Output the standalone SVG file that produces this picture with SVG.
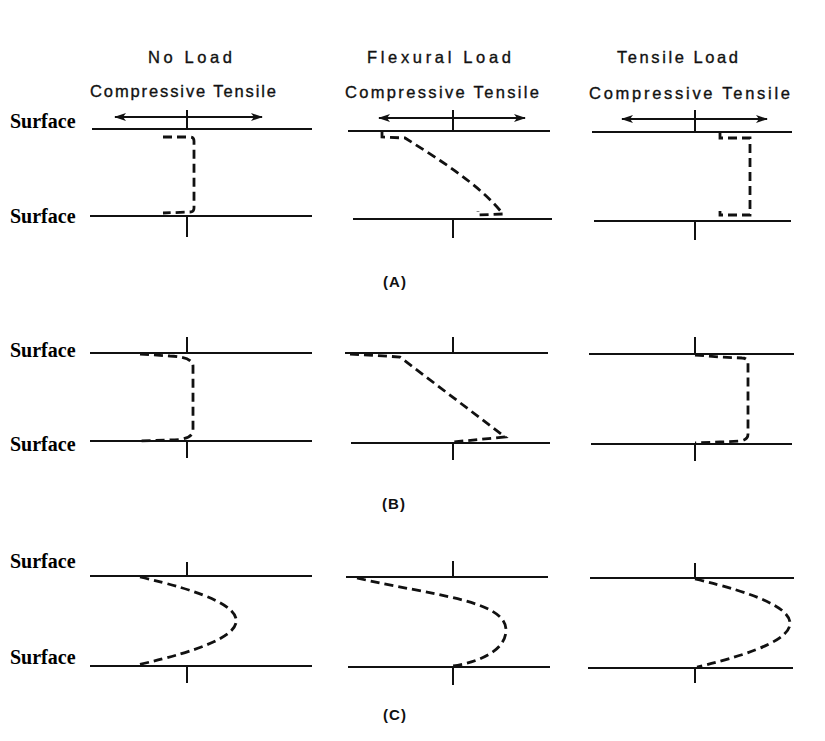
<svg xmlns="http://www.w3.org/2000/svg" width="825" height="741" viewBox="0 0 825 741">
<defs>
<marker id="ah" markerWidth="12" markerHeight="8" refX="11" refY="4" orient="auto-start-reverse" markerUnits="userSpaceOnUse">
<path d="M0,0 L12,4 L0,8 L3,4 Z" fill="#111"/>
</marker>
</defs>
<style>
.ln{stroke:#111;stroke-width:2;fill:none}
.ar{stroke:#111;stroke-width:2;fill:none;marker-start:url(#ah);marker-end:url(#ah)}
.ds{stroke:#111;stroke-width:2.8;fill:none;stroke-dasharray:9 5}
.hd{font-family:"Liberation Sans",Arial,sans-serif;font-size:16.5px;fill:#111;stroke:#111;stroke-width:0.35}
.sf{font-family:"Liberation Serif","Times New Roman",serif;font-size:20px;font-weight:bold;fill:#000}
.lb{font-family:"Liberation Sans",Arial,sans-serif;font-size:15px;font-weight:bold;fill:#111}
</style>
<rect width="825" height="741" fill="#fff"/>
<g id="headers">
<text class="hd" x="148" y="63" textLength="84" lengthAdjust="spacing">No Load</text>
<text class="hd" x="367" y="63" textLength="144" lengthAdjust="spacing">Flexural Load</text>
<text class="hd" x="617" y="63" textLength="121" lengthAdjust="spacing">Tensile Load</text>
<text class="hd" x="90" y="97" textLength="186" lengthAdjust="spacing">Compressive Tensile</text>
<text class="hd" x="345" y="98" textLength="194" lengthAdjust="spacing">Compressive Tensile</text>
<text class="hd" x="589" y="99" textLength="201" lengthAdjust="spacing">Compressive Tensile</text>
</g>
<g id="surface-labels">
<text class="sf" x="10" y="128">Surface</text>
<text class="sf" x="10" y="223">Surface</text>
<text class="sf" x="10" y="357">Surface</text>
<text class="sf" x="10" y="451">Surface</text>
<text class="sf" x="10" y="568">Surface</text>
<text class="sf" x="10" y="664">Surface</text>
</g>
<g id="axes">
<line class="ar" x1="115" y1="117" x2="262" y2="117"/>
<line class="ar" x1="379" y1="118" x2="525" y2="118"/>
<line class="ar" x1="622" y1="119" x2="767" y2="119"/>
<line class="ln" x1="92" y1="129" x2="312" y2="129"/>
<line class="ln" x1="187" y1="110" x2="187" y2="129"/>
<line class="ln" x1="90" y1="216" x2="312" y2="216"/>
<line class="ln" x1="187" y1="216" x2="187" y2="237"/>
<line class="ln" x1="348" y1="131" x2="550" y2="131"/>
<line class="ln" x1="453" y1="110" x2="453" y2="131"/>
<line class="ln" x1="353" y1="219" x2="552" y2="219"/>
<line class="ln" x1="453" y1="219" x2="453" y2="238"/>
<line class="ln" x1="592" y1="132" x2="792" y2="132"/>
<line class="ln" x1="695" y1="110" x2="695" y2="132"/>
<line class="ln" x1="594" y1="221" x2="791" y2="221"/>
<line class="ln" x1="695" y1="221" x2="695" y2="240"/>
<line class="ln" x1="90" y1="353" x2="312" y2="353"/>
<line class="ln" x1="187" y1="337" x2="187" y2="353"/>
<line class="ln" x1="90" y1="441" x2="312" y2="441"/>
<line class="ln" x1="187" y1="441" x2="187" y2="458"/>
<line class="ln" x1="345" y1="353" x2="548" y2="353"/>
<line class="ln" x1="453" y1="337" x2="453" y2="353"/>
<line class="ln" x1="351" y1="443" x2="550" y2="443"/>
<line class="ln" x1="453" y1="443" x2="453" y2="460"/>
<line class="ln" x1="589" y1="354" x2="794" y2="354"/>
<line class="ln" x1="695" y1="337" x2="695" y2="354"/>
<line class="ln" x1="591" y1="444" x2="792" y2="444"/>
<line class="ln" x1="695" y1="444" x2="695" y2="461"/>
<line class="ln" x1="90" y1="576" x2="312" y2="576"/>
<line class="ln" x1="187" y1="562" x2="187" y2="576"/>
<line class="ln" x1="90" y1="666" x2="312" y2="666"/>
<line class="ln" x1="187" y1="666" x2="187" y2="683"/>
<line class="ln" x1="346" y1="577" x2="548" y2="577"/>
<line class="ln" x1="453" y1="561" x2="453" y2="577"/>
<line class="ln" x1="348" y1="667" x2="550" y2="667"/>
<line class="ln" x1="453" y1="667" x2="453" y2="685"/>
<line class="ln" x1="590" y1="578" x2="794" y2="578"/>
<line class="ln" x1="695" y1="563" x2="695" y2="578"/>
<line class="ln" x1="588" y1="668" x2="793" y2="668"/>
<line class="ln" x1="695" y1="668" x2="695" y2="683"/>
</g>
<g id="profiles">
<path class="ds" d="M163,137 L190,137 Q194,137 194,141 L194,208 Q194,212 190,212 L163,213"/>
<path class="ds" d="M382,131 L382,137 L405,138 C440,160 480,185 503,214 L478,215 L478,211"/>
<path class="ds" d="M720,132 L720,138 L750,138 L750,215 L720,215 L720,211"/>
<path class="ds" d="M140,354 L170,356 Q193,357 193,366 L193,430 Q193,440 170,440 L140,441"/>
<path class="ds" d="M350,354 L400,357 L505,437 L453,442"/>
<path class="ds" d="M695,355 L720,357 L742,358 Q748,358 748,364 L748,434 Q748,440 740,441 L720,442 L695,443"/>
<path class="ds" d="M140,577 Q334,621 137,665"/>
<path class="ds" d="M357,578 C430,595 506,600 506,630 C506,650 480,662 453,666"/>
<path class="ds" d="M695,579 Q884,623 697,667"/>
</g>
<g id="row-labels">
<text class="lb" x="395" y="287" text-anchor="middle" letter-spacing="1">(A)</text>
<text class="lb" x="394" y="509" text-anchor="middle" letter-spacing="1">(B)</text>
<text class="lb" x="395" y="720" text-anchor="middle" letter-spacing="1">(C)</text>
</g>
</svg>
